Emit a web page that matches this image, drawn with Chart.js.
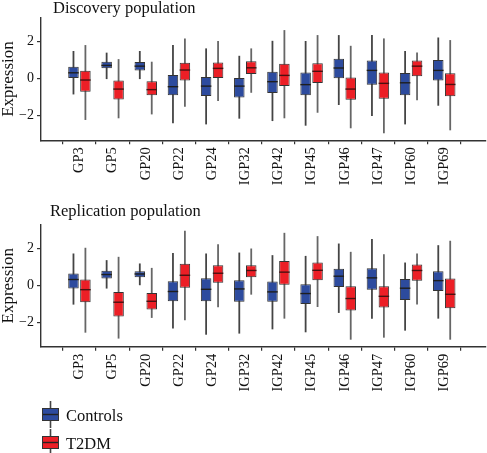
<!DOCTYPE html>
<html>
<head>
<meta charset="utf-8">
<script src="https://cdn.jsdelivr.net/npm/chart.js@4.4.0/dist/chart.umd.min.js"></script>
<style>
  body { margin: 0; background: #fff; width: 487px; height: 453px; overflow: hidden; position: relative; }
  canvas { position: absolute; left: 0; }
  #top { top: 0; }
  #bottom { top: 200px; }
</style>
</head>
<body>
<canvas id="top" width="487" height="200"></canvas>
<canvas id="bottom" width="487" height="253"></canvas>

<script>
// values
const categories = ["GP3", "GP5", "GP20", "GP22", "GP24", "IGP32", "IGP42", "IGP45", "IGP46", "IGP47", "IGP60", "IGP69"];
const yTicks = [-2, 0, 2];
const yTickLabels = ["\u22122", "0", "2"];

// Discovery population
const discCtrlMin = [-0.85, -0.02, -0.02, -2.41, -2.47, -2.16, -2.29, -2.54, -1.42, -2.02, -2.47, -1.46];
const discCtrlQ1  = [0.00, 0.56, 0.45, -0.90, -0.94, -1.01, -0.77, -0.90, 0.02, -0.32, -0.90, -0.09];
const discCtrlMed = [0.32, 0.72, 0.68, -0.43, -0.40, -0.40, -0.16, -0.32, 0.58, 0.45, -0.22, 0.45];
const discCtrlQ3  = [0.65, 0.92, 0.90, 0.20, 0.09, 0.04, 0.38, 0.34, 1.08, 0.99, 0.31, 1.01];
const discCtrlMax = [1.50, 1.41, 1.50, 1.82, 1.64, 1.24, 2.05, 2.04, 2.36, 2.36, 1.50, 2.23];

const discT2dmMin = [-2.23, -2.14, -1.93, -1.51, -1.21, -0.76, -2.14, -1.84, -2.68, -2.95, -1.17, -2.79];
const discT2dmQ1  = [-0.70, -1.12, -0.90, -0.09, 0.04, 0.25, -0.40, -0.23, -1.14, -1.08, 0.13, -0.95];
const discT2dmMed = [-0.07, -0.56, -0.59, 0.47, 0.56, 0.59, 0.18, 0.40, -0.56, -0.25, 0.68, -0.31];
const discT2dmQ3  = [0.43, -0.09, -0.14, 0.86, 0.88, 0.95, 0.81, 0.83, 0.07, 0.34, 0.99, 0.29];
const discT2dmMax = [1.82, 1.06, 0.92, 2.18, 2.04, 1.64, 2.63, 2.36, 1.78, 2.18, 1.42, 2.09];

// Replication population
const repCtrlMin = [-1.05, -0.18, 0.00, -2.35, -2.68, -2.62, -2.39, -2.55, -1.50, -1.81, -2.46, -1.81];
const repCtrlQ1  = [-0.18, 0.36, 0.43, -0.87, -0.87, -0.90, -0.90, -1.01, -0.09, -0.24, -0.80, -0.31];
const repCtrlMed = [0.31, 0.58, 0.61, -0.34, -0.22, -0.20, -0.36, -0.45, 0.49, 0.40, -0.16, 0.25];
const repCtrlQ3  = [0.63, 0.78, 0.76, 0.22, 0.38, 0.27, 0.20, 0.05, 0.90, 0.92, 0.34, 0.76];
const repCtrlMax = [1.72, 1.36, 1.18, 1.75, 1.72, 1.77, 1.63, 1.59, 2.26, 2.50, 1.23, 2.17];

const repT2dmMin = [-2.57, -2.89, -1.77, -1.90, -1.19, -0.51, -1.81, -1.18, -2.95, -2.84, -1.05, -2.95];
const repT2dmQ1  = [-0.92, -1.70, -1.32, -0.14, 0.14, 0.43, 0.02, 0.27, -1.37, -1.21, 0.24, -1.25];
const repT2dmMed = [-0.24, -0.92, -0.87, 0.54, 0.65, 0.80, 0.71, 0.81, -0.72, -0.60, 0.80, -0.49];
const repT2dmQ3  = [0.31, -0.36, -0.42, 1.16, 1.08, 1.08, 1.32, 1.23, -0.05, -0.05, 1.12, 0.36];
const repT2dmMax = [2.03, 1.54, 0.94, 2.95, 2.22, 1.99, 2.84, 2.66, 1.81, 1.68, 1.72, 2.41];

const BLUE = "#2d4b9e";
const RED = "#ec1f26";
const FONT = "'Liberation Serif', 'DejaVu Serif', serif";

// whiskers behind the boxes, medians on top
const boxParts = {
  id: "boxParts",
  beforeDatasetsDraw(chart) {
    const { ctx } = chart;
    const y = chart.scales.y;
    chart.data.datasets.forEach((ds, d) => {
      chart.getDatasetMeta(d).data.forEach((bar, i) => {
        ctx.save();
        ctx.strokeStyle = ds.whiskerColor;
        ctx.lineWidth = 1.8;
        ctx.beginPath();
        ctx.moveTo(bar.x, y.getPixelForValue(ds.stats.max[i]));
        ctx.lineTo(bar.x, y.getPixelForValue(ds.stats.min[i]));
        ctx.stroke();
        ctx.restore();
      });
    });
  },
  afterDatasetsDraw(chart) {
    const { ctx } = chart;
    const y = chart.scales.y;
    chart.data.datasets.forEach((ds, d) => {
      chart.getDatasetMeta(d).data.forEach((bar, i) => {
        const py = y.getPixelForValue(ds.stats.med[i]);
        ctx.save();
        ctx.strokeStyle = ds.medianColor;
        ctx.lineWidth = 1.4;
        ctx.beginPath();
        ctx.moveTo(bar.x - bar.width / 2, py);
        ctx.lineTo(bar.x + bar.width / 2, py);
        ctx.stroke();
        ctx.restore();
      });
    });
  }
};

const panelTitle = {
  id: "panelTitle",
  afterDraw(chart, args, opts) {
    const { ctx } = chart;
    ctx.save();
    ctx.font = "16.5px " + FONT;
    ctx.fillStyle = "#111";
    ctx.textBaseline = "alphabetic";
    ctx.fillText(opts.text, opts.x, opts.y);
    ctx.restore();
  }
};

// boxplot-style legend keys stacked under the lower panel
const boxLegend = {
  id: "boxLegend",
  afterDraw(chart, args, opts) {
    if (!opts.show) return;
    const { ctx } = chart;
    chart.data.datasets.forEach((ds, d) => {
      const top = opts.top + d * opts.step;
      ctx.save();
      ctx.strokeStyle = "#444";
      ctx.lineWidth = 1.6;
      ctx.beginPath();
      ctx.moveTo(50.5, top - 7);
      ctx.lineTo(50.5, top + 20);
      ctx.stroke();
      ctx.fillStyle = ds.backgroundColor;
      ctx.fillRect(42, top, 17, 13);
      ctx.strokeStyle = "#333";
      ctx.lineWidth = 1;
      ctx.strokeRect(42.5, top + 0.5, 16, 12);
      ctx.strokeStyle = "#222";
      ctx.lineWidth = 1.4;
      ctx.beginPath();
      ctx.moveTo(43, top + 6.5);
      ctx.lineTo(58, top + 6.5);
      ctx.stroke();
      ctx.font = "16.5px " + FONT;
      ctx.fillStyle = "#111";
      ctx.textBaseline = "alphabetic";
      ctx.fillText(ds.label, 66, top + 13);
      ctx.restore();
    });
  }
};

function boxDataset(label, color, whisker, median, st) {
  return {
    label: label,
    data: categories.map((c, i) => ({ x: i, y: [st.q1[i], st.q3[i]] })),
    backgroundColor: color,
    borderColor: "#333",
    borderWidth: 1,
    borderSkipped: false,
    categoryPercentage: 0.72,
    barPercentage: 0.88,
    stats: st,
    whiskerColor: whisker,
    medianColor: median
  };
}

function makePanel(id, title, titleX, titleY, ctrl, t2dm, yMin, yMax, padTop, axisHeight, withLegend) {
  new Chart(document.getElementById(id), {
    type: "bar",
    data: {
      datasets: [
        boxDataset("Controls", BLUE, "#444", "#1e1e1e", ctrl),
        boxDataset("T2DM", RED, "#666", "#4a1010", t2dm)
      ]
    },
    options: {
      responsive: false,
      animation: false,
      layout: { padding: { top: padTop, right: 1, left: 0, bottom: 0 } },
      plugins: {
        legend: { display: false },
        tooltip: { enabled: false },
        panelTitle: { text: title, x: titleX, y: titleY },
        boxLegend: { show: withLegend, top: 208, step: 28 }
      },
      scales: {
        x: {
          type: "linear",
          min: -0.6,
          max: 11.7,
          afterBuildTicks: (s) => { s.ticks = categories.map((c, i) => ({ value: i })); },
          afterFit: (s) => { s.height = axisHeight; },
          ticks: {
            callback: (v) => categories[v],
            maxRotation: 90,
            minRotation: 90,
            padding: 3,
            color: "#111",
            font: { family: FONT, size: 14.5 }
          },
          grid: { drawOnChartArea: false, drawTicks: true, tickLength: 4, color: "#333", lineWidth: 1.2 },
          border: { color: "#333", width: 1.4 }
        },
        y: {
          min: yMin,
          max: yMax,
          afterBuildTicks: (s) => { s.ticks = yTicks.map((v) => ({ value: v })); },
          afterFit: (s) => { s.width = 41; },
          ticks: {
            callback: (v, i) => yTickLabels[i],
            padding: 3,
            color: "#111",
            font: { family: FONT, size: 14 }
          },
          title: {
            display: true,
            text: "Expression",
            color: "#111",
            padding: 0,
            font: { family: FONT, size: 17, lineHeight: 1 }
          },
          grid: { drawOnChartArea: false, drawTicks: true, tickLength: 4, color: "#333", lineWidth: 1.2 },
          border: { color: "#333", width: 1.4 }
        }
      }
    },
    plugins: [boxParts, panelTitle, boxLegend]
  });
}

makePanel("top", "Discovery population", 53, 12.7,
  { min: discCtrlMin, q1: discCtrlQ1, med: discCtrlMed, q3: discCtrlQ3, max: discCtrlMax },
  { min: discT2dmMin, q1: discT2dmQ1, med: discT2dmMed, q3: discT2dmQ3, max: discT2dmMax },
  -3.33, 3.3, 17.7, 59.7, false);

makePanel("bottom", "Replication population", 50, 15.7,
  { min: repCtrlMin, q1: repCtrlQ1, med: repCtrlMed, q3: repCtrlQ3, max: repCtrlMax },
  { min: repT2dmMin, q1: repT2dmQ1, med: repT2dmMed, q3: repT2dmQ3, max: repT2dmMax },
  -3.33, 3.28, 24.7, 106.3, true);
</script>
</body>
</html>
